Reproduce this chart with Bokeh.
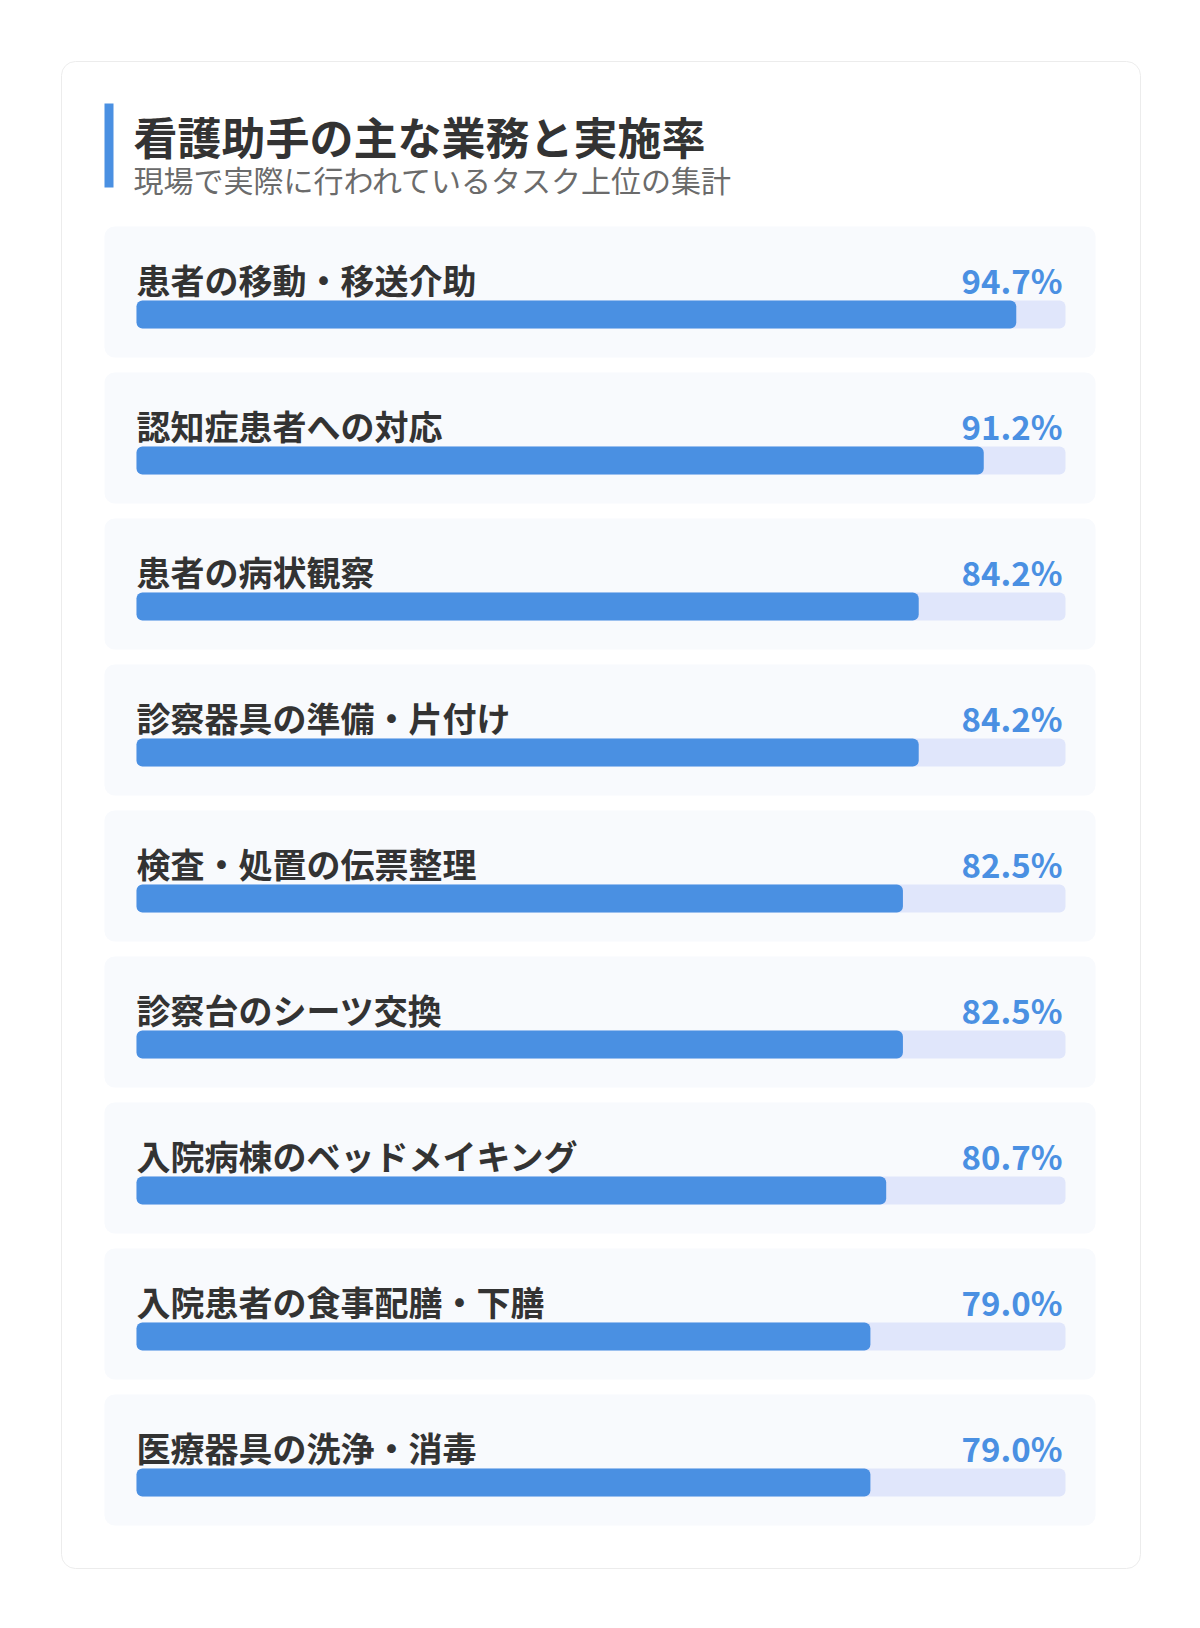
from bokeh.plotting import figure
from bokeh.models import Range1d
from bokeh.embed import file_html
from bokeh.resources import INLINE
from bokeh.core.properties import value

title = "看護助手の主な業務と実施率"
subtitle = "現場で実際に行われているタスク上位の集計"
categories = [
    "患者の移動・移送介助",
    "認知症患者への対応",
    "患者の病状観察",
    "診察器具の準備・片付け",
    "検査・処置の伝票整理",
    "診察台のシーツ交換",
    "入院病棟のベッドメイキング",
    "入院患者の食事配膳・下膳",
    "医療器具の洗浄・消毒",
]
rates = [94.7, 91.2, 84.2, 84.2, 82.5, 82.5, 80.7, 79.0, 79.0]
rate_labels = [f"{v:.1f}%" for v in rates]
rows = list(range(len(categories)))

FONT = value("Noto Sans CJK JP")
W, H = 1184, 1612
M = 0
TRACK_L, TRACK_R = 136, 1065
PX_PER_PCT = (TRACK_R - TRACK_L) / 100.0
ROW0, PITCH = 314, 146

p = figure(width=W, height=H, output_backend="svg", toolbar_location=None,
           x_range=Range1d(M, M + W), y_range=Range1d(M + H, M),
           x_axis_location=None, y_axis_location=None, min_border=0)
p.grid.visible = False
p.outline_line_color = None
p.background_fill_color = "white"
p.border_fill_color = "white"

p.extra_x_ranges = {"pct": Range1d((M - TRACK_L) / PX_PER_PCT, (M + W - TRACK_L) / PX_PER_PCT)}
p.extra_y_ranges = {"rows": Range1d((M + H - ROW0) / PITCH, (M - ROW0) / PITCH)}

# card
p.quad(left=[61], right=[1140], top=[61], bottom=[1568], fill_color="white",
       line_color="#ececec", line_width=1, border_radius=14)
# accent
p.quad(left=[104], right=[113], top=[103], bottom=[187], fill_color="#4a90e2", line_color=None)

p.text(x=[133], y=[135], text=[title], text_font=FONT, text_font_size="44px",
       text_font_style="bold", text_color="#333333", text_baseline="alphabetic")
p.text(x=[133], y=[178], text=[subtitle], text_font=FONT, text_font_size="30px",
       text_color="#6b6b6b", text_baseline="alphabetic")

# row panels
p.quad(left=104, right=1095, top=[r - 88 / PITCH for r in rows], bottom=[r + 43 / PITCH for r in rows],
       y_range_name="rows", fill_color="#f8fafd", line_color=None, border_radius=10)

# tracks and bars
p.hbar(y=rows, left=0, right=100, height=28 / PITCH, x_range_name="pct", y_range_name="rows",
       fill_color="#e0e6fb", line_color=None, border_radius=6)
p.hbar(y=rows, left=0, right=rates, height=28 / PITCH, x_range_name="pct", y_range_name="rows",
       fill_color="#4a90e2", line_color=None, border_radius=6)

p.text(x=0, y=rows, text=categories, x_range_name="pct", y_range_name="rows",
       x_offset=0, y_offset=-35, text_font=FONT, text_font_size="34px", text_font_style="bold",
       text_color="#333333", text_baseline="alphabetic", text_align="left")
p.text(x=100, y=rows, text=rate_labels, x_range_name="pct", y_range_name="rows",
       x_offset=-3, y_offset=-35, text_font=FONT, text_font_size="33px", text_font_style="bold",
       text_color="#4a90e2", text_baseline="alphabetic", text_align="right")

open("out.html", "w").write(file_html(p, INLINE))
